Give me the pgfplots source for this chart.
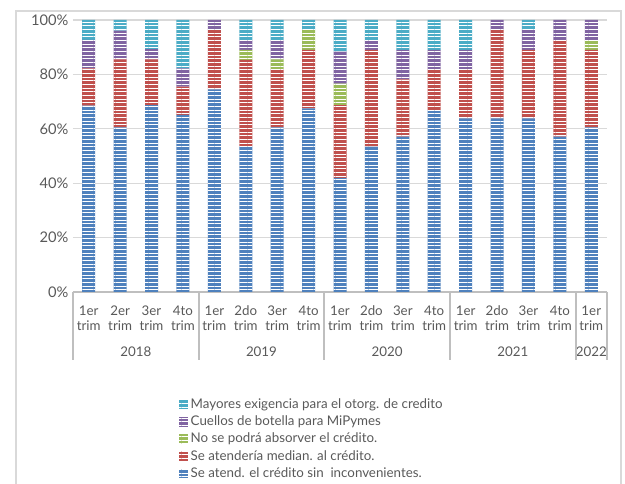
\documentclass[border=0pt]{standalone}
\usepackage{fontspec}
\setmainfont{Lato}
\usepackage{pgfplots}
\pgfplotsset{compat=1.18}
\usetikzlibrary{patterns.meta}

\definecolor{cBlue}{HTML}{4F81BD}
\definecolor{cRed}{HTML}{C0504D}
\definecolor{cGreen}{HTML}{9BBB59}
\definecolor{cPurple}{HTML}{8064A2}
\definecolor{cCyan}{HTML}{4BACC6}
\definecolor{txt}{HTML}{595959}
\definecolor{gridc}{HTML}{D9D9D9}
\definecolor{sepc}{HTML}{BFBFBF}

\pgfplotsset{
  stripe/.style={fill=#1, draw=none,
    postaction={pattern color=white, pattern={Lines[angle=0,distance=2.75pt,line width=0.55pt]}}},
}

% columns: blue = sin inconvenientes, red = median., green = no absorber, purple = cuellos, cyan = mayores exig.
\pgfplotstableread{
x  blue  red   green purple cyan
0  68.5  13.7  0     10.5   7.3
1  60.5  25.0  0     10.6   3.9
2  68.7  16.8  0     3.8    10.7
3  65.1  10.4  0     6.7    17.8
4  74.5  21.8  0     3.7    0
5  53.6  31.7  3.7   3.6    7.4
6  60.5  21.4  3.6   7.1    7.4
7  67.5  21.5  7.3   0      3.7
8  42.0  26.7  7.9   11.8   11.6
9  53.4  35.6  0     3.6    7.4
10 57.1  21.1  0     10.8   11.0
11 66.9  15.0  0     7.1    11.0
12 63.8  18.1  0     7.1    11.0
13 63.8  32.5  0     3.7    0
14 63.8  25.2  0     7.3    3.7
15 57.1  35.5  0     7.4    0
16 60.5  28.5  3.6   7.4    0
}\datatable

\begin{document}
\begin{tikzpicture}[font=\fontsize{10}{11.25}\selectfont, text=txt]
\useasboundingbox (-54.75pt,-144pt) rectangle (414pt,219pt);
\draw[gridc, line width=0.9pt] (-42.75pt,-150pt) -- (-42.75pt,210.75pt) -- (411pt,210.75pt) -- (411pt,-150pt);
\begin{axis}[
  at={(0,0)}, anchor=south west,
  scale only axis, width=400.5pt, height=204pt,
  ybar stacked, bar width=9.75pt,
  xmin=-0.5, xmax=16.5, ymin=0, ymax=100,
  ytick={0,20,...,100},
  yticklabel={\pgfmathprintnumber{\tick}\%},
  xtick={0,...,16},
  xticklabels={{1er\\trim},{2er\\trim},{3er\\trim},{4to\\trim},
               {1er\\trim},{2do\\trim},{3er\\trim},{4to\\trim},
               {1er\\trim},{2do\\trim},{3er\\trim},{4to\\trim},
               {1er\\trim},{2do\\trim},{3er\\trim},{4to\\trim},
               {1er\\trim}},
  xticklabel style={align=center, yshift=-7pt, font=\fontsize{10}{11.25}\selectfont},
  ticklabel style={text=txt},
  yticklabel style={font=\fontsize{11}{12}\selectfont},
  /pgf/number format/assume math mode=true,
  ymajorgrids, grid style={gridc, line width=1pt},
  axis line style={draw=none}, major tick length=0pt,
  clip=false,
  reverse legend,
  legend style={at={(0.19,-0.372)}, anchor=north west, draw=none, fill=none,
    cells={anchor=west}, font=\fontsize{10}{12}\selectfont, text=txt, row sep=0pt},
  legend image code/.code={\fill[#1] (0pt,-3.5pt) rectangle (7pt,3.5pt);},
]
\addplot[stripe=cBlue]   table[x=x, y=blue]   {\datatable};
\addplot[stripe=cRed]    table[x=x, y=red]    {\datatable};
\addplot[stripe=cGreen]  table[x=x, y=green]  {\datatable};
\addplot[stripe=cPurple] table[x=x, y=purple] {\datatable};
\addplot[stripe=cCyan]   table[x=x, y=cyan]   {\datatable};
\legend{Se atend. el crédito sin\ \ inconvenientes.,
        Se atendería median. al crédito.,
        No se podrá absorver el crédito.,
        Cuellos de botella para MiPymes,
        Mayores exigencia para el otorg. de credito}

\draw[sepc, line width=1.5pt] (axis cs:-0.5,0) -- (axis cs:16.5,0);
\pgfplotsinvokeforeach{-0.5,3.5,7.5,11.5,15.5,16.5}{
  \draw[sepc, line width=1.5pt] (axis cs:#1,0) -- ++(0pt,-51pt);
}
\node at (axis cs:1.5,0)  [yshift=-45pt] {2018};
\node at (axis cs:5.5,0)  [yshift=-45pt] {2019};
\node at (axis cs:9.5,0)  [yshift=-45pt] {2020};
\node at (axis cs:13.5,0) [yshift=-45pt] {2021};
\node at (axis cs:16,0)   [yshift=-45pt] {2022};
\end{axis}
\end{tikzpicture}
\end{document}
